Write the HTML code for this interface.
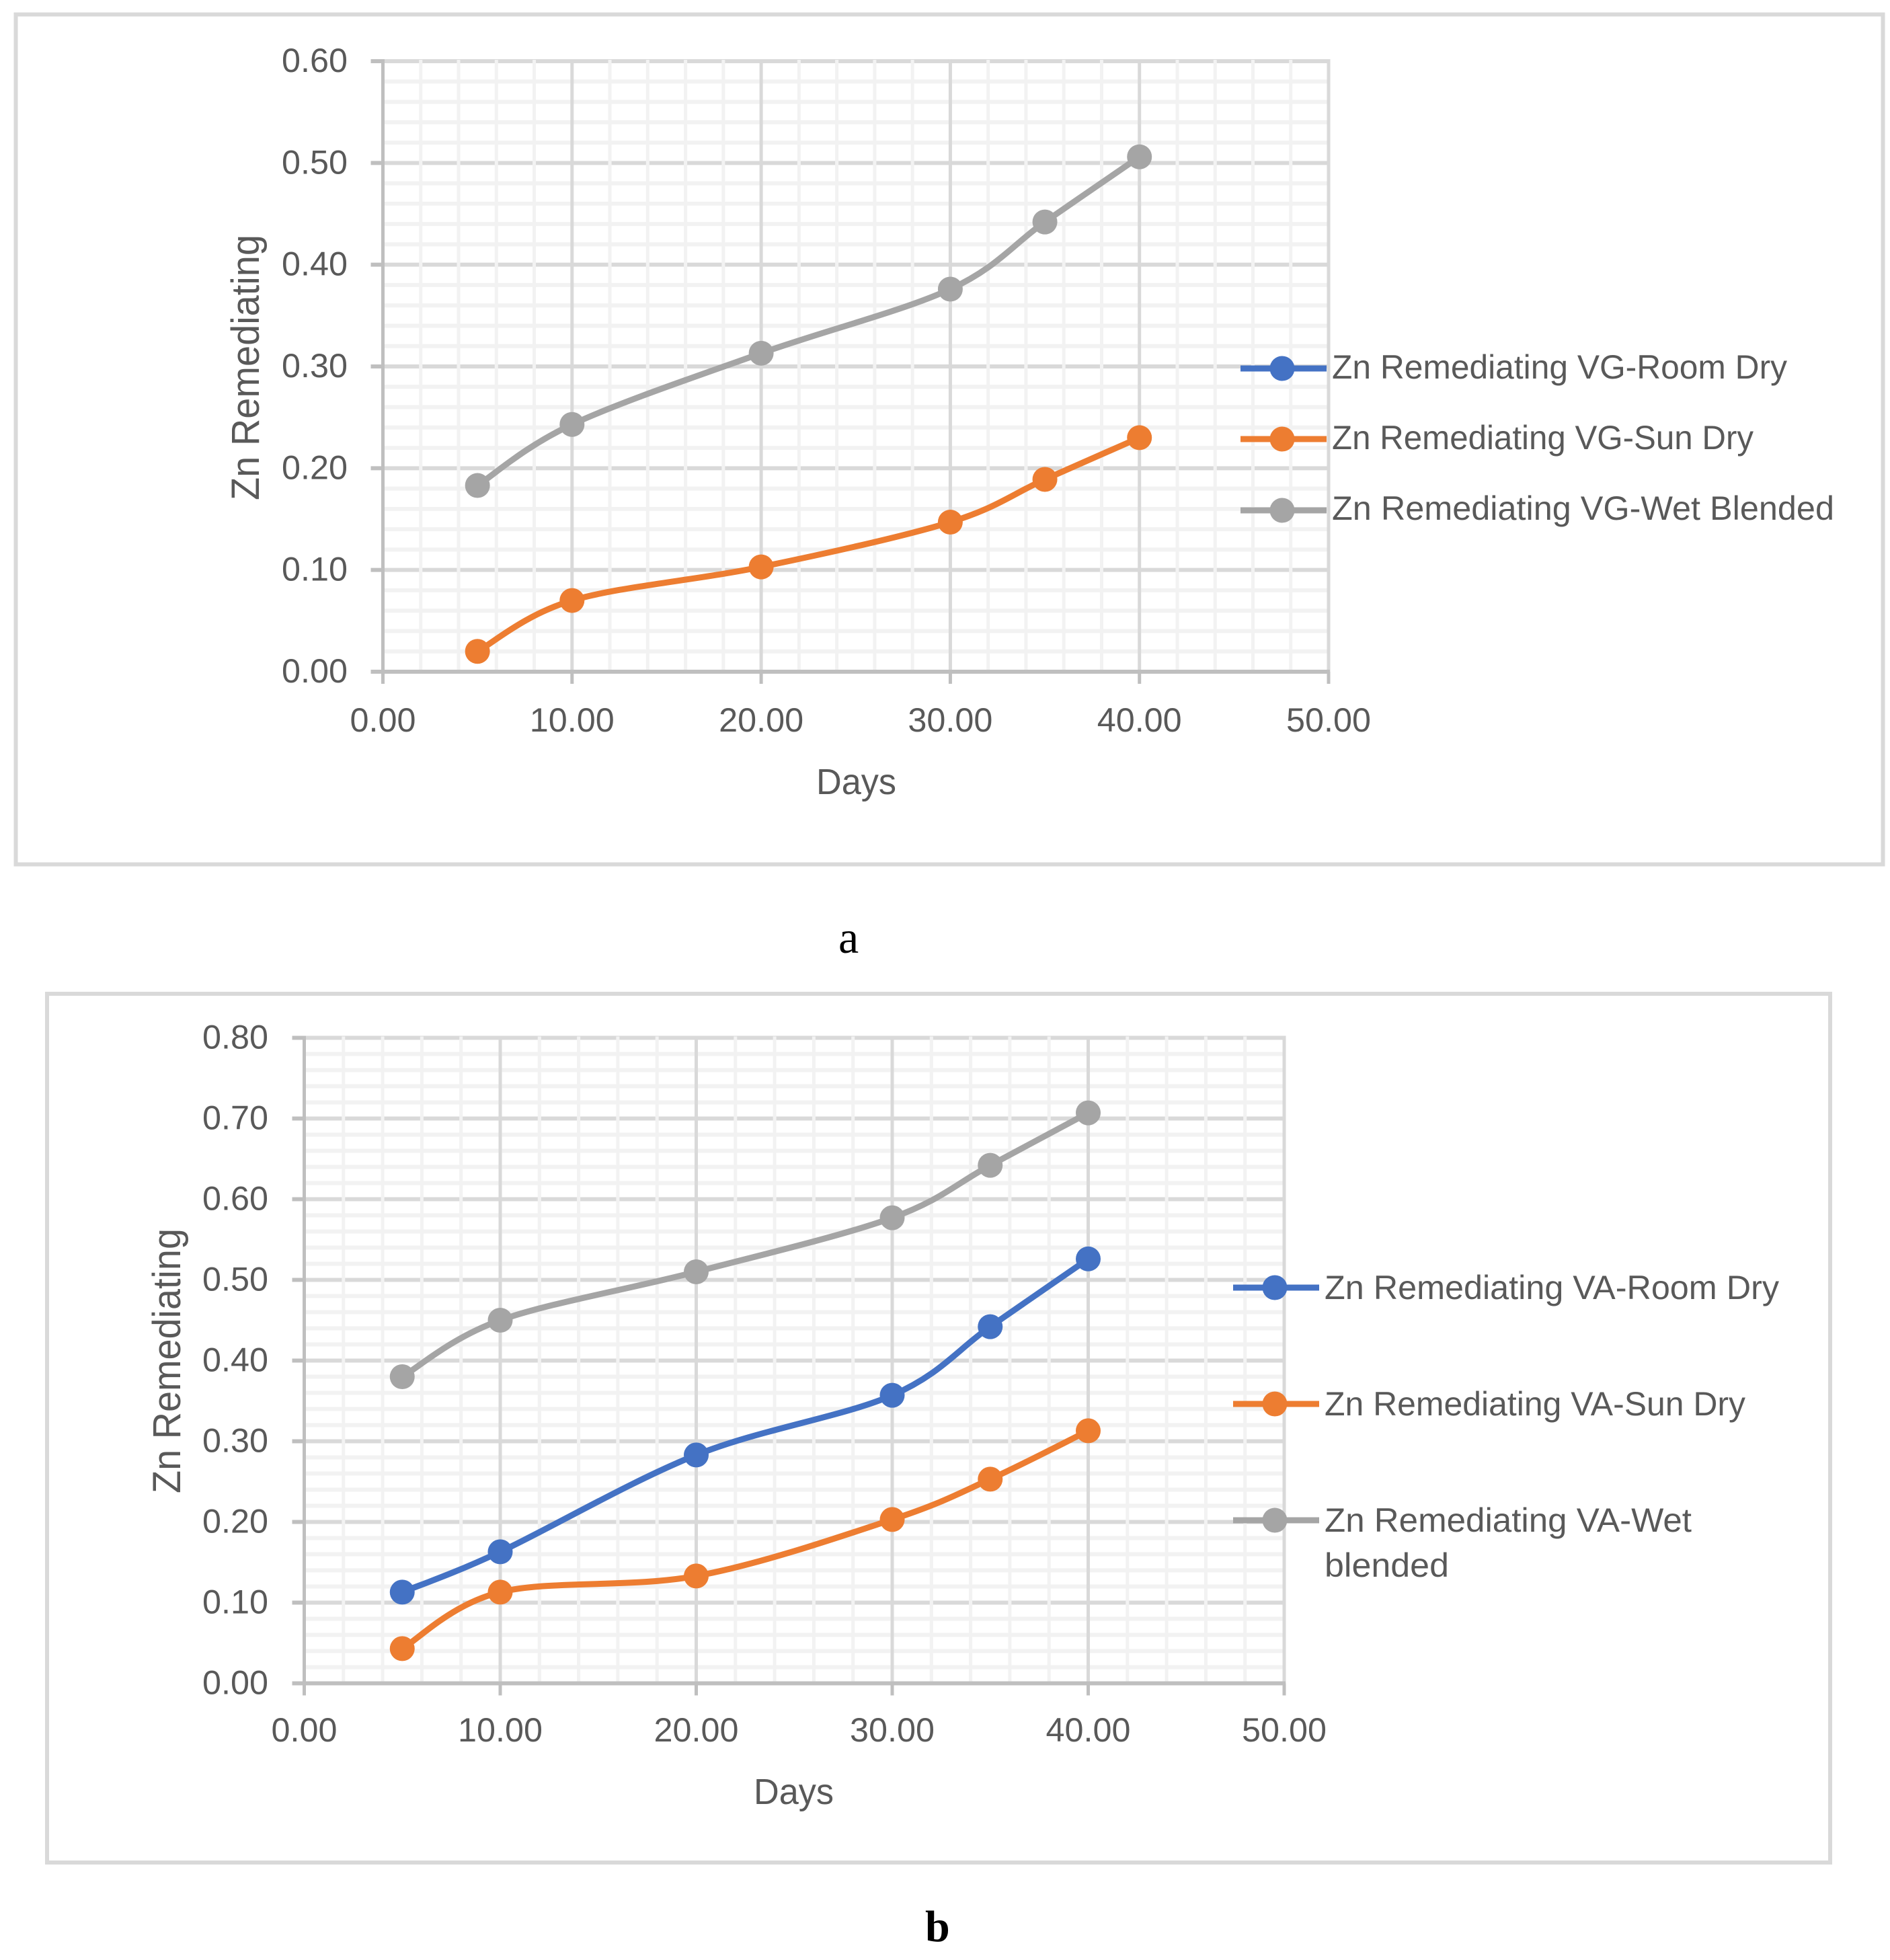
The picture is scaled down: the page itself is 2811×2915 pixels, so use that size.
<!DOCTYPE html>
<html lang="en">
<head>
<meta charset="utf-8">
<title>Zn Remediating charts</title>
<style>
html,body{margin:0;padding:0;background:#fff;}
svg{display:block;}
text{font-family:"Liberation Sans",sans-serif;fill:#595959;}
.cap{font-family:"Liberation Serif",serif;fill:#000;}
</style>
</head>
<body>
<svg id="fig" xmlns="http://www.w3.org/2000/svg" width="2811" height="2915" viewBox="0 0 2811 2915">
  <rect x="0" y="0" width="2811" height="2915" fill="#ffffff"/>

  <rect x="23.5" y="21.5" width="2777" height="1264" fill="#fff" stroke="#d9d9d9" stroke-width="6"/>
  <g id="chart-a"></g>
  <text transform="translate(385 744) rotate(-90)" font-size="58" textLength="395" lengthAdjust="spacingAndGlyphs">Zn Remediating</text>
  <text x="1214" y="1181" font-size="54" textLength="119" lengthAdjust="spacingAndGlyphs">Days</text>
  <g>
    <g>
      <line x1="1845" x2="1973" y1="548" y2="548" stroke="#4472c4" stroke-width="9" stroke-linecap="butt"/>
      <circle cx="1907" cy="548" r="18.5" fill="#4472c4"/>
      <text x="1981" y="563" font-size="50" textLength="677" lengthAdjust="spacingAndGlyphs">Zn Remediating VG-Room Dry</text>
    </g>
    <g>
      <line x1="1845" x2="1973" y1="653" y2="653" stroke="#ed7d31" stroke-width="9" stroke-linecap="butt"/>
      <circle cx="1907" cy="653" r="18.5" fill="#ed7d31"/>
      <text x="1981" y="668" font-size="50" textLength="627" lengthAdjust="spacingAndGlyphs">Zn Remediating VG-Sun Dry</text>
    </g>
    <g>
      <line x1="1845" x2="1973" y1="759" y2="759" stroke="#a5a5a5" stroke-width="9" stroke-linecap="butt"/>
      <circle cx="1907" cy="759" r="18.5" fill="#a5a5a5"/>
      <text x="1981" y="773" font-size="50" textLength="747" lengthAdjust="spacingAndGlyphs">Zn Remediating VG-Wet Blended</text>
    </g>
  </g>
  <text class="cap" x="1247" y="1417" font-size="68">a</text>

  <rect x="70" y="1478" width="2652" height="1292" fill="#fff" stroke="#d9d9d9" stroke-width="6"/>
  <g id="chart-b"></g>
  <text transform="translate(268 2221) rotate(-90)" font-size="58" textLength="394" lengthAdjust="spacingAndGlyphs">Zn Remediating</text>
  <text x="1121" y="2683" font-size="54" textLength="119" lengthAdjust="spacingAndGlyphs">Days</text>
  <g>
    <g>
      <line x1="1834" x2="1962" y1="1915" y2="1915" stroke="#4472c4" stroke-width="9" stroke-linecap="butt"/>
      <circle cx="1896" cy="1915" r="18.5" fill="#4472c4"/>
      <text x="1970" y="1932" font-size="50" textLength="676" lengthAdjust="spacingAndGlyphs">Zn Remediating VA-Room Dry</text>
    </g>
    <g>
      <line x1="1834" x2="1962" y1="2088" y2="2088" stroke="#ed7d31" stroke-width="9" stroke-linecap="butt"/>
      <circle cx="1896" cy="2088" r="18.5" fill="#ed7d31"/>
      <text x="1970" y="2105" font-size="50" textLength="626" lengthAdjust="spacingAndGlyphs">Zn Remediating VA-Sun Dry</text>
    </g>
    <g>
      <line x1="1834" x2="1962" y1="2261" y2="2261" stroke="#a5a5a5" stroke-width="9" stroke-linecap="butt"/>
      <circle cx="1896" cy="2261" r="18.5" fill="#a5a5a5"/>
      <text x="1970" y="2278" font-size="50" textLength="546" lengthAdjust="spacingAndGlyphs">Zn Remediating VA-Wet</text>
      <text x="1970" y="2345" font-size="50" textLength="185" lengthAdjust="spacingAndGlyphs">blended</text>
    </g>
  </g>
  <text class="cap" x="1376" y="2887" font-size="66" font-weight="bold">b</text>
</svg>
<script>
const days = [5, 10, 20, 30, 35, 40];
const xTickLabels = ['0.00', '10.00', '20.00', '30.00', '40.00', '50.00'];

const yTickLabelsA = ['0.00', '0.10', '0.20', '0.30', '0.40', '0.50', '0.60'];
const vgSunDry = [0.02, 0.07, 0.103, 0.147, 0.189, 0.23];
const vgWetBlended = [0.183, 0.243, 0.313, 0.376, 0.442, 0.506];

const yTickLabelsB = ['0.00', '0.10', '0.20', '0.30', '0.40', '0.50', '0.60', '0.70', '0.80'];
const vaRoomDry = [0.113, 0.163, 0.283, 0.357, 0.442, 0.526];
const vaSunDry = [0.043, 0.113, 0.133, 0.203, 0.253, 0.313];
const vaWetBlended = [0.38, 0.45, 0.51, 0.577, 0.642, 0.707];

const NS = 'http://www.w3.org/2000/svg';
function mk(tag, attrs, parent) {
  const n = document.createElementNS(NS, tag);
  for (const k in attrs) n.setAttribute(k, attrs[k]);
  parent.appendChild(n);
  return n;
}

function drawChart(root, box, xLabels, yLabels, seriesList) {
  const xMax = parseFloat(xLabels[xLabels.length - 1]);
  const yMax = parseFloat(yLabels[yLabels.length - 1]);
  const sx = v => box.x0 + (v / xMax) * (box.x1 - box.x0);
  const sy = v => box.y0 - (v / yMax) * (box.y0 - box.y1);
  const minorYCount = Math.round(yMax / 0.02);
  const minorXCount = Math.round(xMax / 2);

  // horizontal gridlines
  for (let i = 0; i <= minorYCount; i++) {
    const major = i % 5 === 0;
    const y = sy(i * 0.02);
    if (major && i === 0) continue;
    const g = mk('line', {x1: box.x0, x2: box.x1, y1: y, y2: y, stroke: major ? '#d9d9d9' : '#f2f2f2', 'stroke-width': 6}, root);
    
    
  }
  // vertical minor gridlines
  for (let i = 1; i < minorXCount; i++) {
    if (i % 5 === 0) continue;
    const x = sx(i * 2);
    const g = mk('line', {x1: x, x2: x, y1: box.y1 - 2, y2: box.y0, stroke: '#f2f2f2', 'stroke-width': 5}, root);
    
    
  }
  // vertical major gridlines
  xLabels.forEach(lab => {
    const v = parseFloat(lab);
    if (v === 0) return;
    const x = sx(v);
    const g = mk('line', {x1: x, x2: x, y1: box.y1 - 3, y2: box.y0, stroke: '#d9d9d9', 'stroke-width': 5}, root);
    
    
  });
  // axes
  const yAxis = mk('line', {x1: box.x0, x2: box.x0, y1: box.y1 - 3, y2: box.y0 + 18, stroke: '#bfbfbf', 'stroke-width': 5}, root);
  
  
  const xAxis = mk('line', {x1: box.x0, x2: box.x1 + 2, y1: box.y0, y2: box.y0, stroke: '#bfbfbf', 'stroke-width': 6}, root);
  
  

  // y ticks + labels
  yLabels.forEach(lab => {
    const y = sy(parseFloat(lab));
    const t = mk('line', {x1: box.x0 - 18, x2: box.x0, y1: y, y2: y, stroke: '#bfbfbf', 'stroke-width': 6}, root);
    
    
    const l = mk('text', {x: box.yLabelX, y: y + 16, 'font-size': 50, textLength: 98, lengthAdjust: 'spacingAndGlyphs'}, root);
    
    
    l.textContent = lab;
  });
  // x ticks + labels
  xLabels.forEach(lab => {
    const x = sx(parseFloat(lab));
    const t = mk('line', {x1: x, x2: x, y1: box.y0, y2: box.y0 + 18, stroke: '#bfbfbf', 'stroke-width': 5}, root);
    
    
    const w = lab.length > 4 ? 126 : 98;
    const l = mk('text', {x: x - w / 2, y: box.xLabelY, 'font-size': 50, textLength: w, lengthAdjust: 'spacingAndGlyphs'}, root);
    
    
    l.textContent = lab;
  });

  // series
  seriesList.forEach(s => {
    const pts = s.values.map((v, i) => [sx(days[i]), sy(v)]);
    let d = 'M' + pts[0][0] + ' ' + pts[0][1];
    for (let i = 0; i < pts.length - 1; i++) {
      const p0 = pts[Math.max(i - 1, 0)], p1 = pts[i], p2 = pts[i + 1], p3 = pts[Math.min(i + 2, pts.length - 1)];
      const c1x = p1[0] + (p2[0] - p0[0]) / 6, c1y = p1[1] + (p2[1] - p0[1]) / 6;
      const c2x = p2[0] - (p3[0] - p1[0]) / 6, c2y = p2[1] - (p3[1] - p1[1]) / 6;
      d += ' C' + c1x + ' ' + c1y + ' ' + c2x + ' ' + c2y + ' ' + p2[0] + ' ' + p2[1];
    }
    const line = mk('path', {d: d, fill: 'none', stroke: s.color, 'stroke-width': 9, 'stroke-linecap': 'round'}, root);
    
    
    pts.forEach(p => {
      const c = mk('circle', {cx: p[0], cy: p[1], r: 18.5, fill: s.color}, root);
      
      
    });
  });
}

drawChart(document.getElementById('chart-a'),
  {x0: 569.5, x1: 1976, y0: 999, y1: 91, yLabelX: 419, xLabelY: 1088},
  xTickLabels, yTickLabelsA,
  [{name: 'vg-sun-dry', color: '#ed7d31', values: vgSunDry},
   {name: 'vg-wet-blended', color: '#a5a5a5', values: vgWetBlended}]);

drawChart(document.getElementById('chart-b'),
  {x0: 452.5, x1: 1910, y0: 2503.5, y1: 1543.5, yLabelX: 301, xLabelY: 2590},
  xTickLabels, yTickLabelsB,
  [{name: 'va-room-dry', color: '#4472c4', values: vaRoomDry},
   {name: 'va-sun-dry', color: '#ed7d31', values: vaSunDry},
   {name: 'va-wet-blended', color: '#a5a5a5', values: vaWetBlended}]);
</script>
</body>
</html>
